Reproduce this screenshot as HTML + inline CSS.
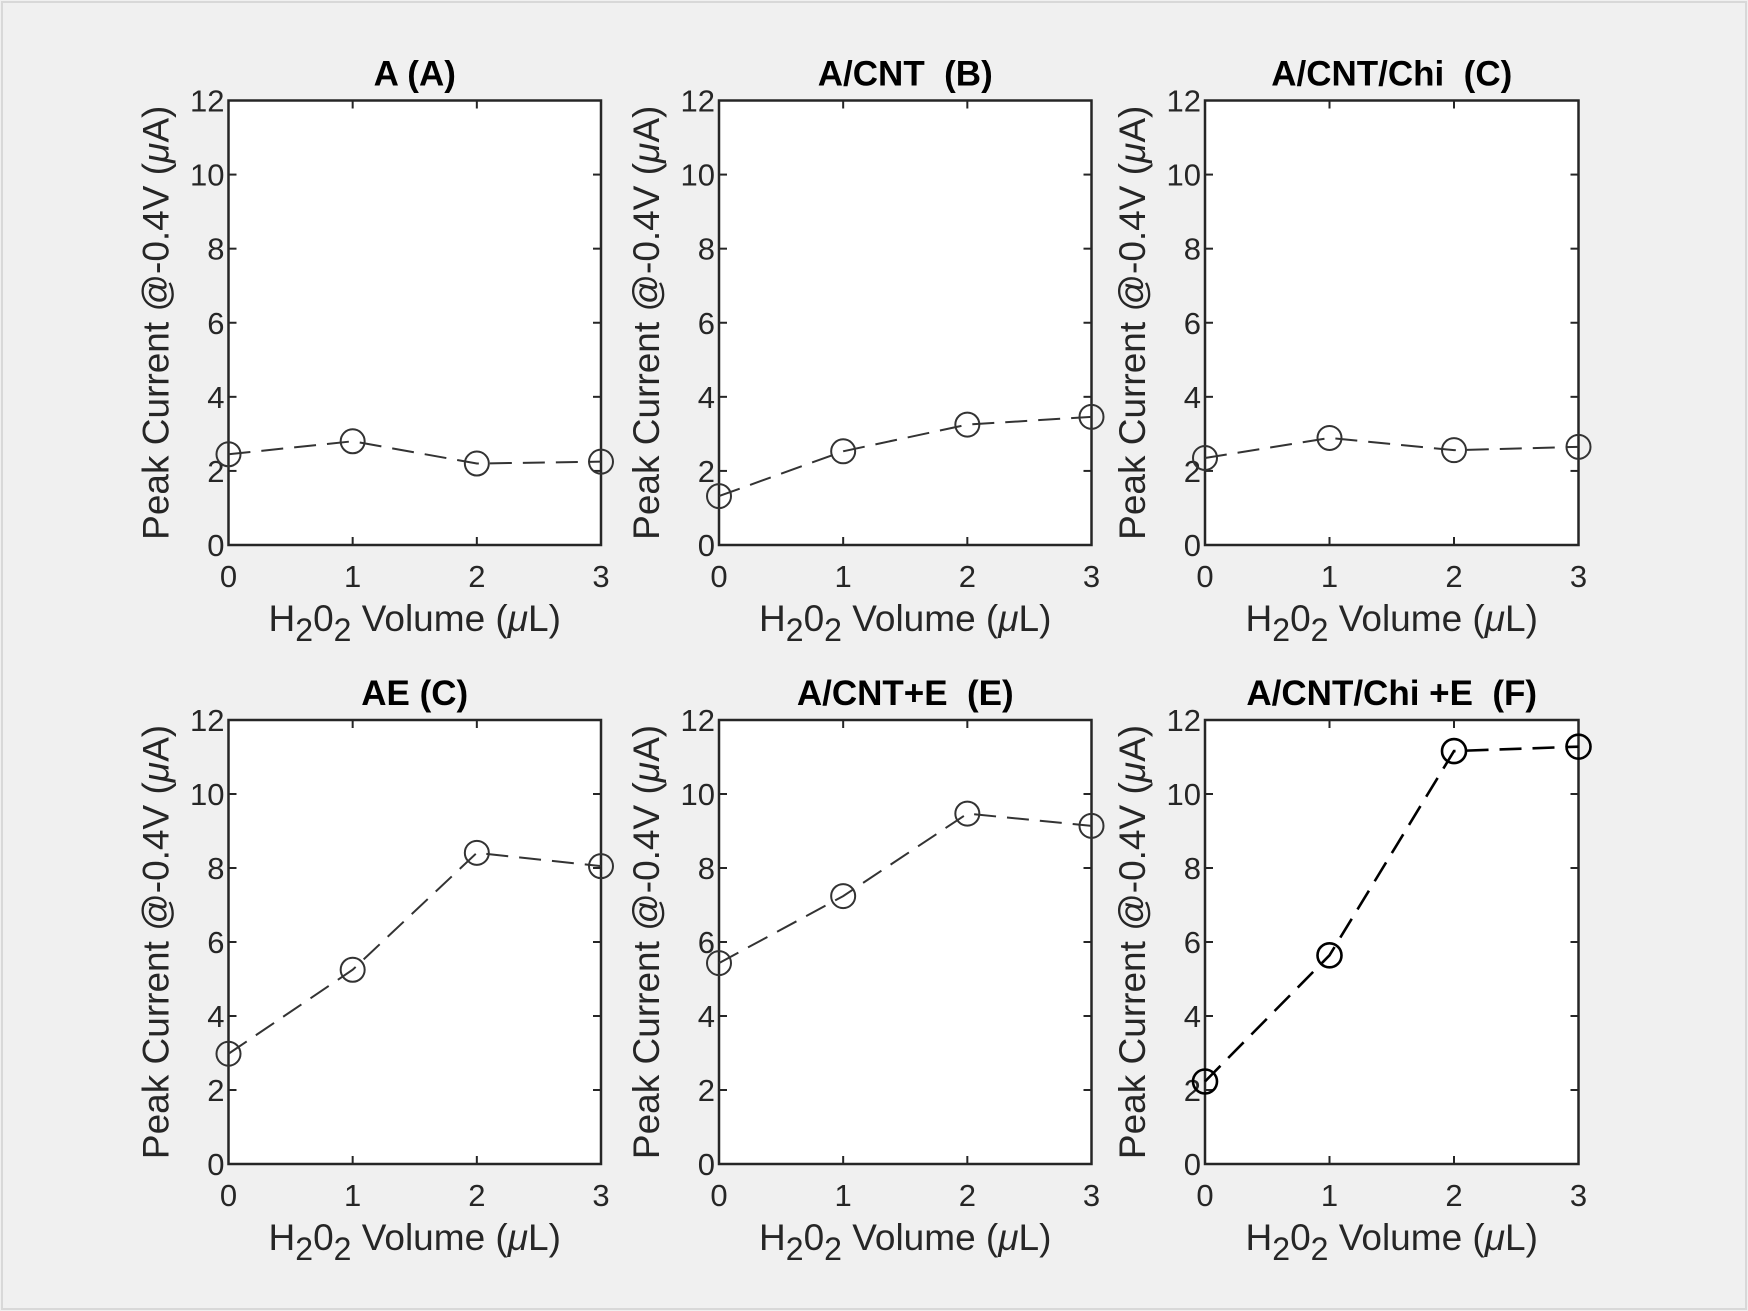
<!DOCTYPE html>
<html><head><meta charset="utf-8"><style>
html,body{margin:0;padding:0;background:#f0f0f0;}
svg{display:block;font-family:"Liberation Sans",Arial,sans-serif;}
</style></head><body>
<svg id="fig" width="1748" height="1311" viewBox="0 0 1748 1311">
<rect x="0" y="0" width="1748" height="1311" fill="#f0f0f0"/>
<rect x="2" y="2" width="1744" height="1307" fill="none" stroke="#d8d8d8" stroke-width="2"/>
</svg>
<script>
const xValues = [0, 1, 2, 3];
const xTicks = [0, 1, 2, 3];
const yTicks = [0, 2, 4, 6, 8, 10, 12];
const titles = ["A (A)", "A/CNT\u00a0\u00a0(B)", "A/CNT/Chi\u00a0\u00a0(C)", "AE (C)", "A/CNT+E\u00a0\u00a0(E)", "A/CNT/Chi +E\u00a0\u00a0(F)"];
const seriesA = [2.45, 2.8, 2.2, 2.25];
const seriesB = [1.32, 2.53, 3.25, 3.46];
const seriesC = [2.35, 2.89, 2.56, 2.65];
const seriesD = [2.98, 5.25, 8.41, 8.05];
const seriesE = [5.43, 7.24, 9.47, 9.14];
const seriesF = [2.23, 5.64, 11.16, 11.28];
const allSeries = [seriesA, seriesB, seriesC, seriesD, seriesE, seriesF];

const NS = "http://www.w3.org/2000/svg";
const svg = document.getElementById('fig');
const lefts = [228.5, 719, 1205], rights = [601, 1091.5, 1578.5];
const tops = [100.5, 720], bottoms = [545, 1164];
function mk(tag, attrs, parent) {
  const e = document.createElementNS(NS, tag);
  for (const k in attrs) e.setAttribute(k, attrs[k]);
  (parent || svg).appendChild(e);
  return e;
}
for (let i = 0; i < 6; i++) {
  const c = i % 3, r = Math.floor(i / 3);
  const L = lefts[c], R = rights[c], T = tops[r], B = bottoms[r];
  const g = mk('g', {});
  
  
  const xs = v => L + (v - 0) / 3 * (R - L);
  const ys = v => B - v / 12 * (B - T);
  const bg = mk('rect', {x: L, y: T, width: R - L, height: B - T, fill: '#fff'}, g);
  
  
  xTicks.forEach(t => {
    const x = xs(t);
    mk('line', {x1: x, y1: B, x2: x, y2: B - 8, stroke: '#262626', 'stroke-width': 2}, g);
    mk('line', {x1: x, y1: T, x2: x, y2: T + 8, stroke: '#262626', 'stroke-width': 2}, g);
    const tx = mk('text', {x: x, y: B + 42, 'text-anchor': 'middle', 'font-size': 31, fill: '#262626'}, g);
    tx.textContent = t;
    
    
  });
  yTicks.forEach(t => {
    const y = ys(t);
    mk('line', {x1: L, y1: y, x2: L + 8, y2: y, stroke: '#262626', 'stroke-width': 2}, g);
    mk('line', {x1: R, y1: y, x2: R - 8, y2: y, stroke: '#262626', 'stroke-width': 2}, g);
    const ty = mk('text', {x: L - 4, y: y + 11, 'text-anchor': 'end', 'font-size': 31, fill: '#262626'}, g);
    ty.textContent = t;
    
    
  });
  const box = mk('rect', {x: L, y: T, width: R - L, height: B - T, fill: 'none', stroke: '#262626', 'stroke-width': 2.5}, g);
  
  
  const data = allSeries[i];
  const pts = data.map((v, j) => xs(xValues[j]) + ',' + ys(v)).join(' ');
  const pl = mk('polyline', {points: pts, fill: 'none', stroke: i === 5 ? '#000' : '#333', 'stroke-width': i === 5 ? 2.6 : 2, 'stroke-dasharray': '22 11'}, g);
  
  
  data.forEach((v, j) => {
    const m = mk('circle', {cx: xs(xValues[j]), cy: ys(v), r: 12, fill: 'none', stroke: i === 5 ? '#000' : '#333', 'stroke-width': i === 5 ? 2.6 : 2}, g);
    
    
  });
  const ti = mk('text', {x: (L + R) / 2, y: T - 15, 'text-anchor': 'middle', 'font-size': 35, 'font-weight': 'bold', fill: '#000'}, g);
  ti.textContent = titles[i];
  
  
  const xl = mk('text', {x: (L + R) / 2, y: B + 86, 'text-anchor': 'middle', 'font-size': 37, fill: '#262626'}, g);
  xl.innerHTML = 'H<tspan dy="10" font-size="32">2</tspan><tspan dy="-10">0</tspan><tspan dy="10" font-size="32">2</tspan><tspan dy="-10"> Volume (</tspan><tspan font-style="italic">μ</tspan><tspan>L)</tspan>';
  
  
  const cy = (T + B) / 2, cx = L - 60;
  const yl = mk('text', {x: cx, y: cy, 'text-anchor': 'middle', 'font-size': 37, fill: '#262626', transform: 'rotate(-90 ' + cx + ' ' + cy + ')'}, g);
  yl.innerHTML = 'Peak Current @-0.4V (<tspan font-style="italic">μ</tspan>A)';
  
  
}
</script>
</body></html>
